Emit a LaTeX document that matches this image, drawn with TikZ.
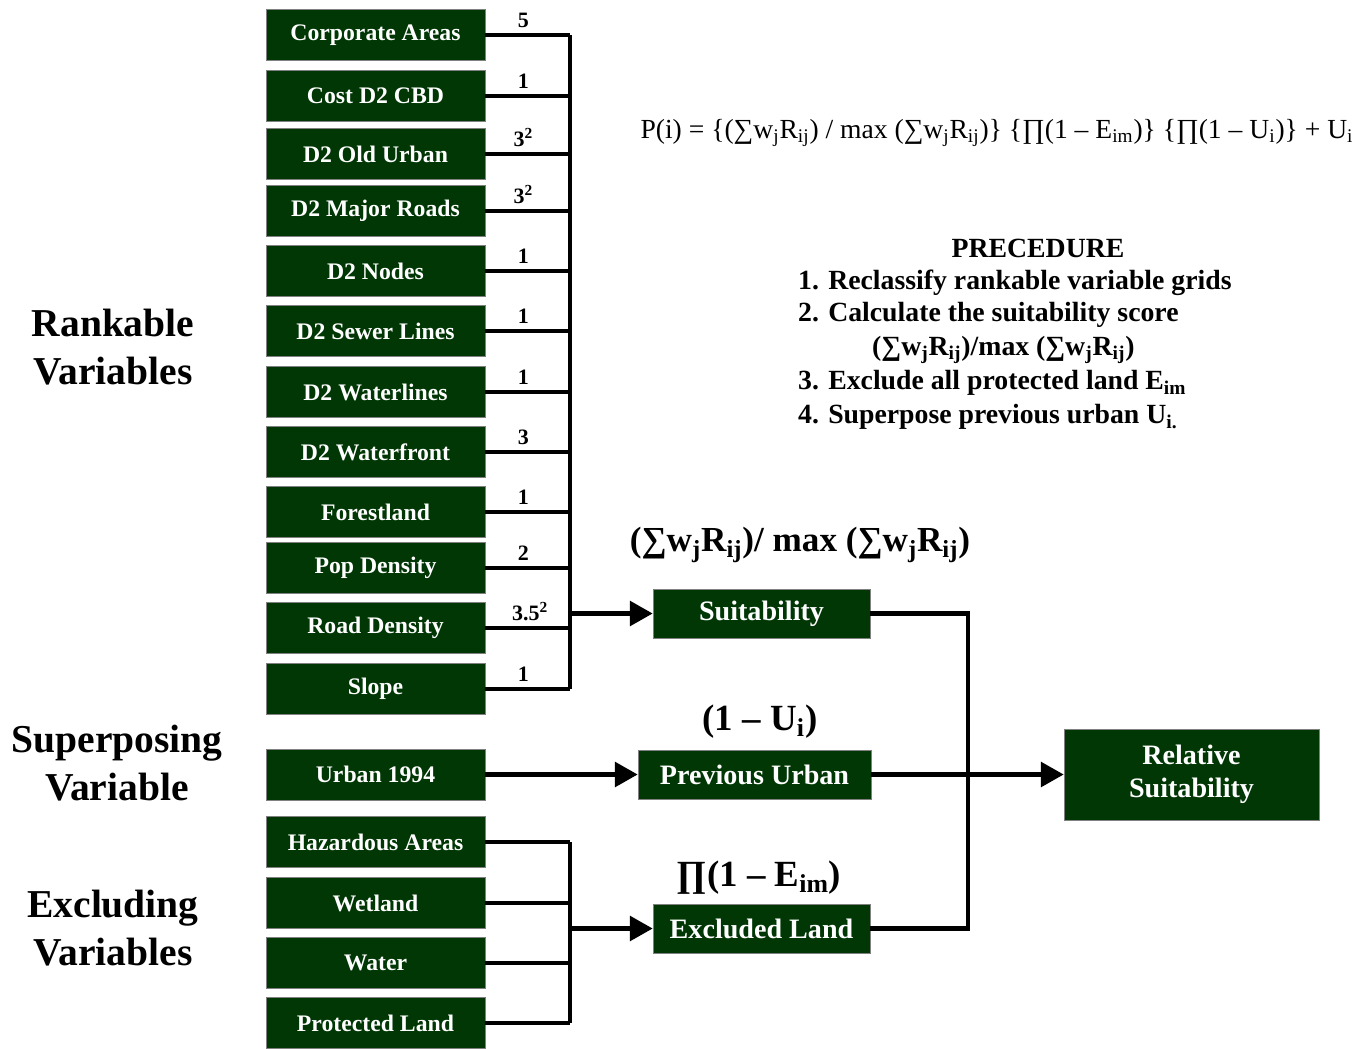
\documentclass[tikz,border=0pt]{standalone}
\usepackage{fontspec}
\setmainfont{Liberation Serif}
\usetikzlibrary{arrows.meta, positioning}
\definecolor{boxgreen}{RGB}{0,55,5}
\newcommand{\sbs}[1]{\textsubscript{#1}}
\newcommand{\sps}[1]{\textsuperscript{#1}}

\begin{document}
\begin{tikzpicture}[x=0.02cm, y=-0.02cm,
    varbox/.style={draw=black!50, fill=boxgreen, text=white, minimum width=4.38cm, minimum height=1.02cm, inner sep=0pt, font=\fontsize{13.5}{15}\selectfont\bfseries},
    stepbox/.style={varbox, minimum width=4.34cm, minimum height=0.98cm, font=\fontsize{16}{19}\selectfont\bfseries, align=center},
    wt/.style={font=\fontsize{12.5}{14}\selectfont\bfseries, inner sep=1pt, yshift=2pt},
    grp/.style={align=center, font=\fontsize{22.5}{27}\selectfont\bfseries},
    expr/.style={font=\fontsize{20}{22}\selectfont\bfseries},
    proc/.style={anchor=west, font=\fontsize{15.8}{18}\selectfont\bfseries},
    line/.style={line width=2.4pt},
    arrow/.style={line width=2.4pt, -{Triangle[length=13pt, width=14pt]}}
]
\useasboundingbox (0,0) rectangle (1369,1048);

% group labels
\node[grp] (rank) at (113,347) {Rankable\\Variables};
\node[grp] (super) at (117,763) {Superposing\\Variable};
\node[grp] (excl-lbl) at (113,928) {Excluding\\Variables};

% rankable variables
\node[varbox] (corp) at (375.5,35) {Corporate Areas};
\node[varbox] (cbd) at (375.5,96) {Cost D2 CBD};
\node[varbox] (oldurb) at (375.5,154) {D2 Old Urban};
\node[varbox] (roads) at (375.5,211) {D2 Major Roads};
\node[varbox] (nodes) at (375.5,271) {D2 Nodes};
\node[varbox] (sewer) at (375.5,331) {D2 Sewer Lines};
\node[varbox] (water) at (375.5,392) {D2 Waterlines};
\node[varbox] (front) at (375.5,452) {D2 Waterfront};
\node[varbox] (forest) at (375.5,512) {Forestland};
\node[varbox] (pop) at (375.5,568) {Pop Density};
\node[varbox] (rdens) at (375.5,628) {Road Density};
\node[varbox] (slope) at (375.5,689) {Slope};

% superposing and excluding variables
\node[varbox] (urb94) at (375.5,774.5) {Urban 1994};
\node[varbox] (haz) at (375.5,842) {Hazardous Areas};
\node[varbox] (wet) at (375.5,903) {Wetland};
\node[varbox] (wat) at (375.5,963) {Water};
\node[varbox] (prot) at (375.5,1023) {Protected Land};

% intermediate and result
\node[stepbox] (suit) at (761.5,613.5) {Suitability};
\node[stepbox, minimum width=4.66cm] (prev) at (754.5,774.5) {Previous Urban};
\node[stepbox] (excl) at (761.5,928.5) {Excluded Land};
\node[stepbox, minimum width=5.1cm, minimum height=1.82cm] (rel) at (1191.5,774.5) {Relative\\Suitability};

\node[expr] (suit-eq) at (800,545) {(∑w\sbs{j}R\sbs{ij})/ max (∑w\sbs{j}R\sbs{ij})};
\node[expr, font=\fontsize{21}{23}\selectfont\bfseries] (prev-eq) at (760,722) {(1 – U\sbs{i})};
\node[expr, font=\fontsize{21}{23}\selectfont\bfseries] (excl-eq) at (759,878) {∏(1 – E\sbs{im})};

% formula and procedure
\node[font=\fontsize{15.7}{18}\selectfont] (formula) at (997,133) {P(i) = \{(∑w\sbs{j}R\sbs{ij}) / max (∑w\sbs{j}R\sbs{ij})\} \{∏(1 – E\sbs{im})\} \{∏(1 – U\sbs{i})\} + U\sbs{i}};
\node[proc, anchor=center] (proc0) at (1038,248) {PRECEDURE};
\node[proc] (proc1) at (792,283) {1. Reclassify rankable variable grids};
\node[proc] (proc2) at (792,315) {2. Calculate the suitability score};
\node[proc] (proc3) at (866,350) {(∑w\sbs{j}R\sbs{ij})/max (∑w\sbs{j}R\sbs{ij})};
\node[proc] (proc4) at (792,383) {3. Exclude all protected land E\sbs{im}};
\node[proc] (proc5) at (792,417) {4. Superpose previous urban U\sbs{i.}};

% buses
\coordinate (bus) at (570,613.5);
\coordinate (xbus) at (570,928.5);
\coordinate (merge) at (968,774.5);

\draw[line] (corp.east) -- node[wt, above, pos=0.45] (w1) {5} (corp.east -| bus);
\draw[line] (cbd.east) -- node[wt, above, pos=0.45] (w2) {1} (cbd.east -| bus);
\draw[line] (oldurb.east) -- node[wt, above, pos=0.45] (w3) {3\sps{2}} (oldurb.east -| bus);
\draw[line] (roads.east) -- node[wt, above, pos=0.45] (w4) {3\sps{2}} (roads.east -| bus);
\draw[line] (nodes.east) -- node[wt, above, pos=0.45] (w5) {1} (nodes.east -| bus);
\draw[line] (sewer.east) -- node[wt, above, pos=0.45] (w6) {1} (sewer.east -| bus);
\draw[line] (water.east) -- node[wt, above, pos=0.45] (w7) {1} (water.east -| bus);
\draw[line] (front.east) -- node[wt, above, pos=0.45] (w8) {3} (front.east -| bus);
\draw[line] (forest.east) -- node[wt, above, pos=0.45] (w9) {1} (forest.east -| bus);
\draw[line] (pop.east) -- node[wt, above, pos=0.45] (w10) {2} (pop.east -| bus);
\draw[line] (rdens.east) -- node[wt, above, pos=0.53] (w11) {3.5\sps{2}} (rdens.east -| bus);
\draw[line] (slope.east) -- node[wt, above, pos=0.45] (w12) {1} (slope.east -| bus);
\draw[line] (corp.east -| bus) -- (slope.east -| bus);
\draw[arrow] (bus) -- (suit.west);

\draw[arrow] (urb94.east) -- (prev.west);

\draw[line] (haz.east) -- (haz.east -| xbus);
\draw[line] (wet.east) -- (wet.east -| xbus);
\draw[line] (wat.east) -- (wat.east -| xbus);
\draw[line] (prot.east) -- (prot.east -| xbus);
\draw[line] (haz.east -| xbus) -- (prot.east -| xbus);
\draw[arrow] (xbus) -- (excl.west);

\draw[line] (suit.east) -| (merge) |- (excl.east);
\draw[arrow] (prev.east) -- (rel.west);

\end{tikzpicture}
\end{document}
